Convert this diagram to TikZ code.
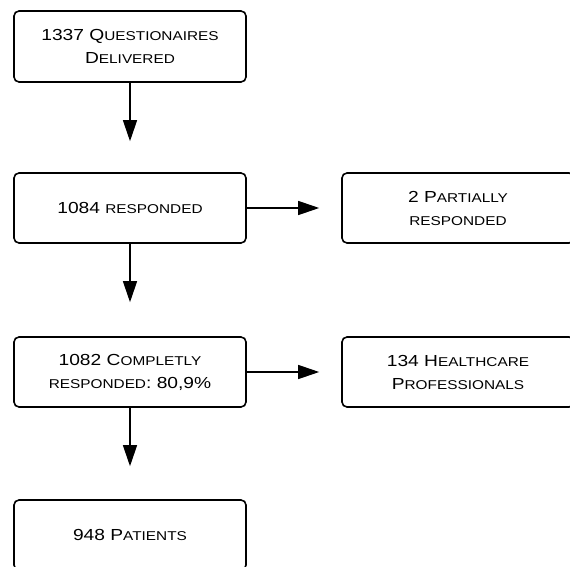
\documentclass[tikz,border=0pt]{standalone}
\usepackage{fontspec}
\setmainfont{Liberation Sans}[FakeStretch=1.2]
\usetikzlibrary{arrows.meta}
\newcommand{\smcap}[1]{{\fontsize{12.8pt}{23pt}\selectfont #1}}

\begin{document}
\begin{tikzpicture}[x=1pt, y=1pt, ->, >={Triangle[length=21pt, width=14pt]}, line width=1.3pt, main/.style={draw, line width=1.6pt, rounded corners=5pt, minimum width=232pt, minimum height=70pt, align=center, font=\fontsize{16pt}{23pt}\selectfont}]

    \useasboundingbox (0,0) rectangle (570,-567);

    \node[main, minimum height=71pt] (Q) at (130,-46.5) {1337 Q\smcap{UESTIONAIRES}\\D\smcap{ELIVERED}};
    \node[main] (R) at (130,-208) {1084 \smcap{RESPONDED}};
    \node[main] (P) at (458,-208) {2 P\smcap{ARTIALLY}\\\smcap{RESPONDED}};
    \node[main] (C) at (130,-372) {1082 C\smcap{OMPLETLY}\\\smcap{RESPONDED}: 80,9\%};
    \node[main] (H) at (458,-372) {134 H\smcap{EALTHCARE}\\P\smcap{ROFESSIONALS}};
    \node[main] (T) at (130,-535) {948 P\smcap{ATIENTS}};
\path
        (Q) edge[shorten >=31pt] (R)
        (R) edge[shorten >=34pt] (C)
        (C) edge[shorten >=33pt] (T)
        (R) edge[shorten >=22pt] (P)
        (C) edge[shorten >=22pt] (H)
;
\end{tikzpicture}
\end{document}
